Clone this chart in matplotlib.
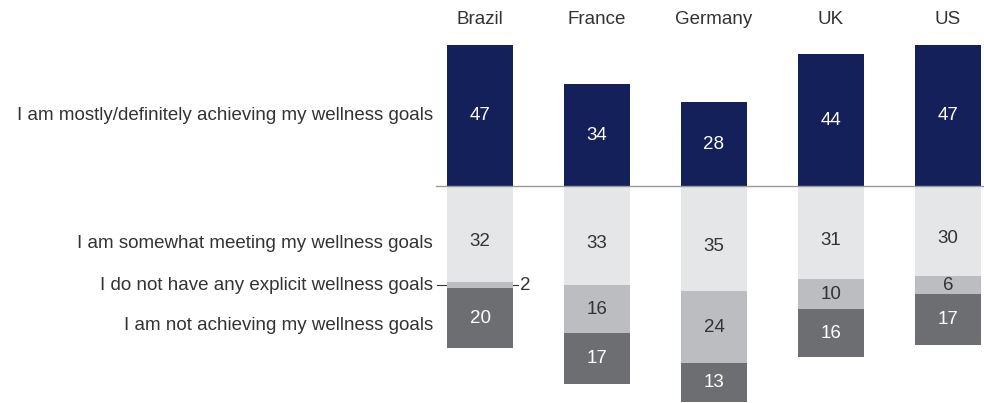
import numpy as np
import matplotlib
matplotlib.use("Agg")
import matplotlib.pyplot as plt

plt.rcParams['font.family'] = ['Liberation Sans', 'DejaVu Sans']

countries = ["Brazil", "France", "Germany", "UK", "US"]
achieving = [47, 34, 28, 44, 47]
somewhat = [32, 33, 35, 31, 30]
no_goals = [2, 16, 24, 10, 6]
not_achieving = [20, 17, 13, 16, 17]

row_labels = ["I am mostly/definitely achieving my wellness goals",
              "I am somewhat meeting my wellness goals",
              "I do not have any explicit wellness goals",
              "I am not achieving my wellness goals"]

navy = "#13205a"
light = "#e5e6e8"
mid = "#bcbdc0"
dark = "#6d6e71"
txt = "#333333"

fig = plt.figure(figsize=(9.84, 4.03), dpi=100)
ax = fig.add_axes([0, 0, 1, 1])
ax.set_xlim(-4.103, 4.308)
ax.set_ylim(-72.33, 62)
ax.axis("off")

x = np.arange(len(countries))
w = 0.564
fs = 13.5

ach = np.array(achieving)
s = np.array(somewhat)
n = np.array(no_goals)
na = np.array(not_achieving)

ax.bar(x, ach, w, color=navy, zorder=2)
ax.bar(x, -s, w, color=light, zorder=2)
ax.bar(x, -n, w, bottom=-s, color=mid, zorder=2)
ax.bar(x, -na, w, bottom=-(s + n), color=dark, zorder=2)

ax.plot([-0.376, 4.31], [0, 0], color="#9a9a9a", lw=1, zorder=3)

for i in range(len(countries)):
    ax.text(x[i], 55.5, countries[i], ha="center", va="center", fontsize=fs, color=txt)
    ax.text(x[i], ach[i] / 2, str(ach[i]), ha="center", va="center", fontsize=fs, color="white")
    ax.text(x[i], -s[i] / 2 - 2.5, str(s[i]), ha="center", va="center", fontsize=fs, color=txt)
    if n[i] >= 5:
        ax.text(x[i], -s[i] - n[i] / 2, str(n[i]), ha="center", va="center", fontsize=fs, color=txt)
    else:
        ymid = -s[i] - n[i] / 2
        ax.plot([x[i] - 0.368, x[i] + 0.325], [ymid, ymid], color=txt, lw=0.8, zorder=1)
        ax.text(x[i] + 0.342, ymid, str(n[i]), ha="left", va="center", fontsize=fs, color=txt)
    ax.text(x[i], -s[i] - n[i] - na[i] / 2, str(na[i]), ha="center", va="center", fontsize=fs, color="white")

# row labels aligned with the Brazil segments
row_y = [ach[0] / 2, -s[0] / 2 - 3, -s[0] - n[0] / 2, -s[0] - n[0] - na[0] / 2 - 2.5]
for lab, yy in zip(row_labels, row_y):
    ax.text(-0.40, yy, lab, ha="right", va="center", fontsize=fs, color=txt)

fig.savefig("out.png", dpi=100)
